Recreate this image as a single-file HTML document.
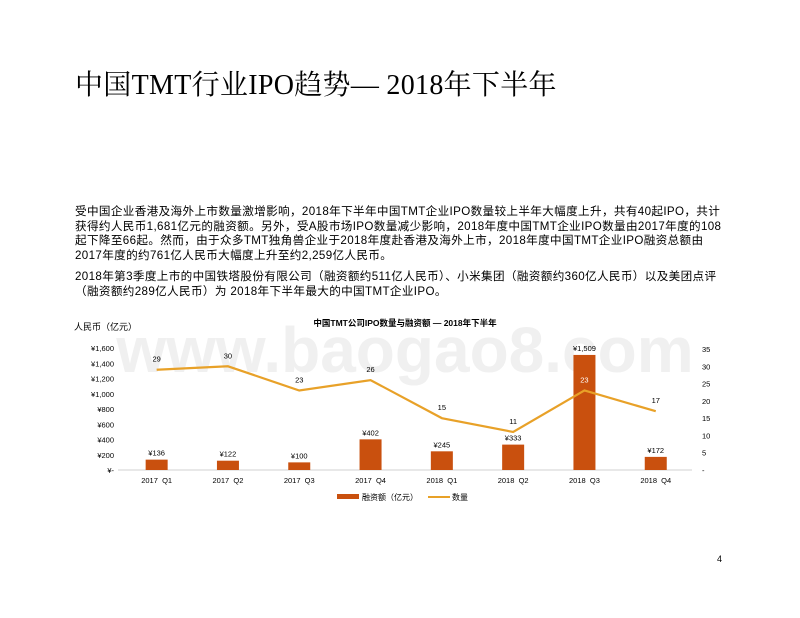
<!DOCTYPE html>
<html><head><meta charset="utf-8"><style>
body{margin:0;width:800px;height:618px;background:#fff;position:relative;overflow:hidden;font-family:"Liberation Sans","Noto Sans CJK SC",sans-serif}
.title{position:absolute;left:75px;top:63px;font-family:"Liberation Serif","Noto Serif CJK SC",serif;font-size:28px;letter-spacing:0.3px;color:#000;white-space:nowrap}
.p{position:absolute;left:75px;font-size:11.6px;color:#000;white-space:nowrap;line-height:14.5px;letter-spacing:0.35px}
.pg{position:absolute;left:717px;top:554px;font-size:9px}
</style></head><body>
<div class="title">中国TMT行业IPO趋势— 2018年下半年</div>
<div class="p" style="top:205px">受中国企业香港及海外上市数量激增影响，2018年下半年中国TMT企业IPO数量较上半年大幅度上升，共有40起IPO，共计<br>获得约人民币1,681亿元的融资额。另外，受A股市场IPO数量减少影响，2018年度中国TMT企业IPO数量由2017年度的108<br>起下降至66起。然而，由于众多TMT独角兽企业于2018年度赴香港及海外上市，2018年度中国TMT企业IPO融资总额由<br>2017年度的约761亿人民币大幅度上升至约2,259亿人民币。</div>
<div class="p" style="top:270px">2018年第3季度上市的中国铁塔股份有限公司（融资额约511亿人民币）、小米集团（融资额约360亿人民币）以及美团点评<br>（融资额约289亿人民币）为 2018年下半年最大的中国TMT企业IPO。</div>
<svg id="chart" width="800" height="618" style="position:absolute;left:0;top:0">
<text x="405" y="372" text-anchor="middle" font-size="64" font-weight="bold" fill="#f0f0f0" font-family="Liberation Sans,sans-serif">www.baogao8.com</text>
<text x="405" y="326" text-anchor="middle" font-size="8.5" font-weight="bold">中国TMT公司IPO数量与融资额 — 2018年下半年</text>
<text x="74" y="330" font-size="9">人民币（亿元）</text>
<g id="g"></g>
<rect x="337" y="494" width="22" height="5" fill="#C9500E"/>
<text x="362" y="500" font-size="8">融资额（亿元）</text>
<line x1="428" y1="497" x2="450" y2="497" stroke="#E8A128" stroke-width="2"/>
<text x="452" y="500" font-size="8">数量</text>
</svg>
<div class="pg">4</div>
<script>
const categories=["2017  Q1","2017  Q2","2017  Q3","2017  Q4","2018  Q1","2018  Q2","2018  Q3","2018  Q4"];
const amounts=[136,122,100,402,245,333,1509,172];
const counts=[29,30,23,26,15,11,23,17];
const leftTicks=[0,200,400,600,800,1000,1200,1400,1600];
const rightTicks=[0,5,10,15,20,25,30,35];
const NS="http://www.w3.org/2000/svg";
const g=document.getElementById('g');
const x0=121,step=71.3,base=470;
const xc=i=>x0+step*(i+0.5);
const yL=v=>base-v*(122/1600);
const yR=v=>base-v*(121/35);
function mk(t,a){const e=document.createElementNS(NS,t);for(const k in a)e.setAttribute(k,a[k]);g.appendChild(e);return e;}
leftTicks.forEach(v=>{const t=mk('text',{x:114,y:yL(v)+3,'text-anchor':'end','font-size':7.5});t.textContent=v===0?'¥-':'¥'+v.toLocaleString('en-US');

});
rightTicks.forEach(v=>{const t=mk('text',{x:702,y:yR(v)+3,'font-size':7.5});t.textContent=v===0?'-':v;

});
const ax=mk('line',{x1:118,y1:base,x2:692,y2:base,stroke:'#d0d0d0','stroke-width':1});


amounts.forEach((v,i)=>{const r=mk('rect',{x:xc(i)-11,y:yL(v),width:22,height:base-yL(v),fill:'#C9500E'});


const t=mk('text',{x:xc(i),y:yL(v)-4,'text-anchor':'middle','font-size':7.5});t.textContent='¥'+v.toLocaleString('en-US');


const c=mk('text',{x:xc(i),y:base+13,'text-anchor':'middle','font-size':7.5});c.textContent=categories[i];c.setAttribute('xml:space','preserve');c.style.whiteSpace='pre';

});
const pl=mk('polyline',{points:counts.map((v,i)=>xc(i)+','+yR(v)).join(' '),fill:'none',stroke:'#E8A128','stroke-width':2.2});


counts.forEach((v,i)=>{const t=mk('text',{x:xc(i),y:yR(v)-8,'text-anchor':'middle','font-size':7.5,fill:i===6?'#fff':'#000'});t.textContent=v;

});
</script>
</body></html>
